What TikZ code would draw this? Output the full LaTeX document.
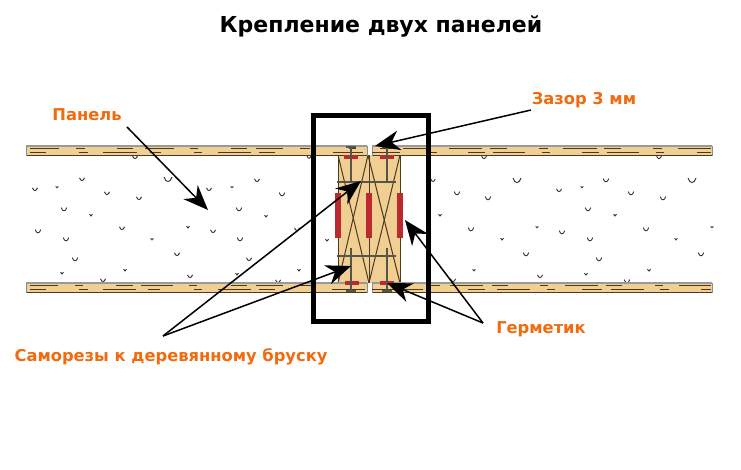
\documentclass[tikz,border=0pt]{standalone}
\usepackage{fontspec}
\setmainfont{DejaVu Sans}
\usetikzlibrary{arrows.meta}
\definecolor{wood}{HTML}{F1CF93}
\definecolor{lbl}{HTML}{F26A0E}
\definecolor{seal}{HTML}{BC2A30}
\definecolor{edge}{HTML}{4A3A20}
\definecolor{screw}{HTML}{55554A}
\tikzset{
  ptr/.style={draw=black,line width=1.5pt,-{Stealth[length=25pt,width=20pt,inset=8pt]}},
  lab/.style={text=lbl,font=\bfseries\fontsize{16.3}{19}\selectfont,inner sep=0pt},
  ttl/.style={text=black,font=\bfseries\fontsize{22}{26}\selectfont,inner sep=0pt},
  panel/.style={fill=wood,draw=none},
  grain/.style={draw=edge,line width=1pt},
  bub/.style={draw=black!80,line width=0.9pt},
  sealant/.style={fill=seal,draw=none},
  scr/.style={draw=screw,line width=1.6pt},
  bar/.style={draw=edge,line width=1pt},
}
\begin{document}
\begin{tikzpicture}[x=1pt,y=-1pt]
\useasboundingbox (0,0) rectangle (741,469);
\fill[white] (0,0) rectangle (741,469);
% foam bubbles
\foreach \x/\y/\r in {135/157/2.5,82/179/2.5,168/179/4,257/180/2.5,35/189/2.5,57/187/1.3,209/189/2.5,232/187/1.3,107/193/2.5,139/198/2.5,64/209/2.8,91/215/1.5,239/209/2.8,38/231/2.8,122/228/2.5,188/227/1.5,213/231/2.5,66/239/2.8,152/239/1.4,240/239/2.8,75/259/2.8,177/254/2.5,249/259/2.5,62/273/1.5,125/270/1.5,190/276/2.5,237/274/1.5,103/280/2.5,282/194/2.8,266/216/1.5,297/229/2.5,299/270/1.5,278/281/2.5,309/157/2,327/240/1.6,313/197/1.3,484/157/2.5,517/180/4,433/180/2.2,559/190/2.5,457/193/2.8,488/198/2.8,440/215/1.5,471/229/2.8,537/227/1.3,562/232/2.8,502/239/1.5,526/254/2.8,474/270/1.4,540/276/2.5,453/280/2.5,659/157/2.5,606/180/2.8,692/180/4,582/187/1.3,631/193/2.8,663/198/2.8,588/209/2.8,615/215/1.5,646/229/2.8,712/227/1.3,590/239/2.8,676/239/1.4,701/254/2.8,599/259/2.8,586/274/1.6,649/270/1.6,627/281/2.8}
  \draw[bub] ({\x-\r},{\y-\r*.5}) .. controls ({\x-\r*.6},{\y+\r*1}) and ({\x+\r*.6},{\y+\r*1}) .. ({\x+\r},{\y-\r*.5});
% wooden block
\fill[panel] (338,155) rectangle (400,283);
\draw[bar] (338,155) -- (338,283);
\draw[bar] (400,155) -- (400,283);
\foreach \a/\b in {338/369,368/338,368/400,400/369}{
  \draw[bar] (\a,155) -- (\b,283);
}
\draw[bar] (369,155) -- (369,283);
% panels
\foreach \l/\r/\t in {26/367/146,372/712/146,26/367/283,372/712/283}{
  \fill[panel] (\l,\t) rectangle (\r,{\t+9.5});
  \draw[draw=black!40,line width=1.1pt] (\l,\t) -- (\r,\t);
  \draw[draw=edge,line width=1.1pt] (\l,{\t+9.5}) -- (\r,{\t+9.5});
  \draw[draw=black!45,line width=0.8pt] (\l,\t) -- (\l,{\t+9.5});
  \draw[draw=black!45,line width=0.8pt] (\r,\t) -- (\r,{\t+9.5});
}
% grain of the panel faces
\foreach \a/\b in {30/59,76/85,117/133,145/174,190/198,231/247,256/283,300/310,349/356,380/392,403/430,449/482,490/507,539/548,563/597,604/621,653/662,678/711}
  \draw[grain] (\a,148.5) -- (\b,148.5);
\foreach \a/\b in {30/46,79/88,103/137,150/161,194/202,218/251,259/275,333/363,372/400,430/437,468/485,493/525,542/550,582/599,607/639,656/664,697/711}
  \draw[grain] (\a,152.5) -- (\b,152.5);
\foreach \a/\b in {30/58,75/83,116/133,141/173,189/197,231/247,256/283,300/312,430/440,450/483,492/508,540/548,565/598,606/622,655/663,679/711}
  \draw[grain] (\a,285.5) -- (\b,285.5);
\foreach \a/\b in {30/46,79/88,103/136,148/160,194/202,218/251,259/275,332/365,372/423,468/485,497/530,547/555,582/602,611/644,660/669,701/711}
  \draw[grain] (\a,289.5) -- (\b,289.5);
% sealant
\fill[sealant] (335,193) rectangle (341,238);
\fill[sealant] (366,193) rectangle (372,238);
\fill[sealant] (397,193) rectangle (403,238);
\fill[sealant] (344,155) rectangle (358,158.5);
\fill[sealant] (380,155) rectangle (394,158.5);
\fill[sealant] (345,281) rectangle (359,284.5);
\fill[sealant] (380,281) rectangle (394,284.5);
% screws
\draw[scr] (351,147) -- (351,183);
\draw[scr] (387,147) -- (387,183);
\draw[scr] (337,182) -- (396,182);
\draw[scr] (337,256) -- (396,256);
\draw[scr] (351,248) -- (351,291);
\draw[scr] (387,248) -- (387,291);
\draw[scr] (346,147) -- (356,147);
\draw[scr] (382,147) -- (392,147);
\draw[scr] (346,291) -- (356,291);
\draw[scr] (382,291) -- (392,291);
% frame
\draw[draw=black,line width=5pt] (313.5,115.5) rectangle (428.5,321.5);
% labels
\node[ttl] (title) at (381,26) {Крепление двух панелей};
\node[lab] (lpanel) at (87,115) {Панель};
\node[lab] (lgap) at (584,100) {Зазор 3 мм};
\node[lab] (lseal) at (541,329) {Герметик};
\node[lab] (lscrew) at (171,357) {Саморезы к деревянному бруску};
% connector ends
\coordinate (pstart) at (127,127);
\coordinate (ptip) at (208,210);
\coordinate (gstart) at (531,110);
\coordinate (gtip) at (375,146);
\coordinate (sfork) at (163,336);
\coordinate (stip1) at (361,181);
\coordinate (stip2) at (351,266);
\coordinate (hfork) at (483,323);
\coordinate (htip1) at (405,220);
\coordinate (htip2) at (387,283);
\draw[ptr] (pstart) -- (ptip);
\draw[ptr] (gstart) -- (gtip);
\draw[ptr] (sfork) -- (stip1);
\draw[ptr] (sfork) -- (stip2);
\draw[ptr] (hfork) -- (htip1);
\draw[ptr] (hfork) -- (htip2);
\end{tikzpicture}
\end{document}
